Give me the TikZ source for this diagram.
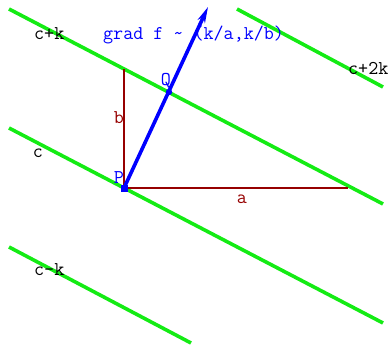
\documentclass[tikz,border=0pt]{standalone}
\usepackage{fontspec}
\usetikzlibrary{arrows.meta,calc}
\definecolor{lgreen}{RGB}{20,235,20}
\definecolor{dred}{RGB}{150,0,0}
\tikzset{
  level/.style={draw=lgreen,line width=3.6pt},
  side/.style={draw=dred,line width=1.3pt},
  lbl/.style={font=\ttfamily\fontsize{19.5}{19.5}\selectfont,inner sep=0pt},
  grad/.style={draw=blue,line width=3.6pt,-{Stealth[length=16pt,width=8pt]}}
}
\begin{document}
\begin{tikzpicture}[x=1pt,y=-1pt]
\useasboundingbox (0,0) rectangle (391,345);
% level lines
\coordinate (k1a) at (9,9);   \coordinate (k1b) at (383,204);
\coordinate (k0a) at (9,128); \coordinate (k0b) at (383,323);
\coordinate (km1a) at (9,247); \coordinate (km1b) at (191,343);
\coordinate (k2a) at (237,9); \coordinate (k2b) at (383,87);
\draw[level] (k1a) -- (k1b);
\draw[level] (k0a) -- (k0b);
\draw[level] (km1a) -- (km1b);
\draw[level] (k2a) -- (k2b);
% triangle
\coordinate (P) at (124,188);
\coordinate (B) at (124,69);
\coordinate (A) at (348,188);
\coordinate (Q) at (169,92);
\coordinate (T) at (208,7);
\draw[side] (P) -- (B);
\draw[side] (P) -- (A);
% gradient
\draw[grad] (P) -- (T);
\fill[blue] ($(P)+(-3.5,-3.5)$) rectangle ($(P)+(3.5,3.5)$);
\fill[blue] (Q) circle (3.2pt);
% labels
\node[lbl,text=blue] (Pl) at (119,178) {P};
\node[lbl,text=blue] (Ql) at (166,81) {Q};
\node[lbl,text=dred] (bl) at (119,118) {b};
\node[lbl,text=dred] (al) at (242,199) {a};
\node[lbl,text=blue,anchor=west] (gl) at (103,35) {grad f \textasciitilde\ (k/a,k/b)};
\node[lbl,anchor=west] (l1) at (34,34) {c+k};
\node[lbl] (l0) at (38,153) {c};
\node[lbl,anchor=west] (lm1) at (34,270) {c-k};
\node[lbl,anchor=west] (l2) at (348,68) {c+2k};
\end{tikzpicture}
\end{document}
